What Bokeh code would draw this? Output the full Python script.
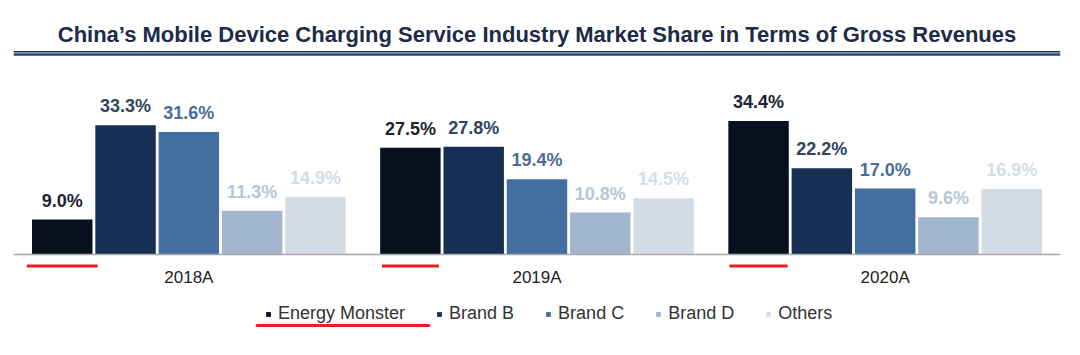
from bokeh.plotting import figure
from bokeh.models import FactorRange, ColumnDataSource, Span, Legend, LegendItem, Range1d
from bokeh.core.properties import value
from bokeh.embed import file_html
from bokeh.resources import INLINE

# ---------------- data ----------------
title_text = "China\u2019s Mobile Device Charging Service Industry Market Share in Terms of Gross Revenues"
years = ["2018A", "2019A", "2020A"]
brands = ["Energy Monster", "Brand B", "Brand C", "Brand D", "Others"]
energy_monster = [9.0, 27.5, 34.4]
brand_b = [33.3, 27.8, 22.2]
brand_c = [31.6, 19.4, 17.0]
brand_d = [11.3, 10.8, 9.6]
others = [14.9, 14.5, 16.9]
series = [energy_monster, brand_b, brand_c, brand_d, others]

bar_colors = ["#06101e", "#182f55", "#426f9f", "#a1b6ce", "#d4dce6"]
label_colors = ["#1c2331", "#2f4461", "#4c6d96", "#b9c6d6", "#d6dde6"]
underline_w = [1.12, 0.9, 0.92]   # hand-drawn red marks under Energy Monster bars

# ---------------- layout constants ----------------
W, H = 1080, 355
PX = 3.88          # pixels per percentage point
BASE = 254         # canvas row of the zero line
Y0 = -(H - BASE) / PX
Y1 = BASE / PX
FONT_NAME = "Liberation Sans"
FONT = value(FONT_NAME)


def yrow(row):
    """convert a canvas pixel row to data y (for decorations only)"""
    return (BASE - row) / PX


xs, tops, cols, lcols, labels = [], [], [], [], []
for yi, yr in enumerate(years):
    for bi, b in enumerate(brands):
        v = series[bi][yi]
        xs.append((yr, b))
        tops.append(v)
        cols.append(bar_colors[bi])
        lcols.append(label_colors[bi])
        labels.append(f"{v:.1f}%")
src = ColumnDataSource(dict(x=xs, top=tops, color=cols, lcolor=lcols, label=labels))

x_range = FactorRange(*[(y, b) for y in years for b in brands],
                      group_padding=0.5, factor_padding=0.0,
                      range_padding=0.27, range_padding_units="absolute")

p = figure(width=W, height=H, x_range=x_range, y_range=Range1d(Y0, Y1),
           output_backend="svg", toolbar_location=None,
           x_axis_location=None, y_axis_location=None,
           min_border_left=13, min_border_right=20, min_border_top=0, min_border_bottom=0)
p.grid.visible = False
p.outline_line_color = None
p.background_fill_color = "white"
p.border_fill_color = "white"

# bars
p.vbar(x="x", top="top", width=0.955, source=src, fill_color="color", line_color=None)

# value labels
p.text(x="x", y="top", text="label", source=src, text_color="lcolor",
       text_align="center", text_baseline="alphabetic", y_offset=-19,
       text_font=FONT, text_font_size="18px", text_font_style="bold")

# baseline
p.add_layout(Span(location=0, dimension="width", line_color="#a9a9a9", line_width=1.5))

# group labels
p.text(x=years, y=[0] * len(years), text=years, text_align="center", text_baseline="middle",
       y_offset=23, text_font=FONT, text_font_size="17px", text_color="#222222")

# title and rule
p.text(x=["2019A"], y=[Y1], text=[title_text], text_align="center", text_baseline="alphabetic",
       y_offset=34, text_font=FONT, text_font_size="22px", text_font_style="bold",
       text_color="#1d2b47")
p.add_layout(Span(location=yrow(51.3), dimension="width", line_color="#1e2c4c", line_width=1.5))
p.add_layout(Span(location=yrow(54.0), dimension="width", line_color="#2b4573", line_width=2.4))

# red hand-drawn underlines
p.rect(x=[(y, "Energy Monster") for y in years], y=[yrow(265.5)] * len(years),
       width=underline_w, height=3.2, height_units="screen", fill_color="#ee1d1d", line_color=None)
p.segment(x0=[3.58], x1=[6.29], y0=[yrow(325)], y1=[yrow(325)], line_color="#ee1d1d",
          line_width=3.2, line_cap="round")

# legend (one NaN point per renderer: nothing drawn in the plot, glyph drawn in legend)
items = []
for b, c in zip(brands, bar_colors):
    r = p.scatter(x=[years[0]], y=[float("nan")], marker="square", size=5,
                  fill_color=c, line_color=None)
    items.append(LegendItem(label=b, renderers=[r]))
legend = Legend(items=items, orientation="horizontal", location=(249, 31),
                glyph_width=12, glyph_height=20, label_standoff=4, spacing=28,
                padding=0, margin=0, border_line_color=None, background_fill_alpha=0,
                label_text_font=FONT_NAME, label_text_font_size="18px", label_text_color="#333333")
p.add_layout(legend)

open("out.html", "w").write(file_html(p, INLINE))
